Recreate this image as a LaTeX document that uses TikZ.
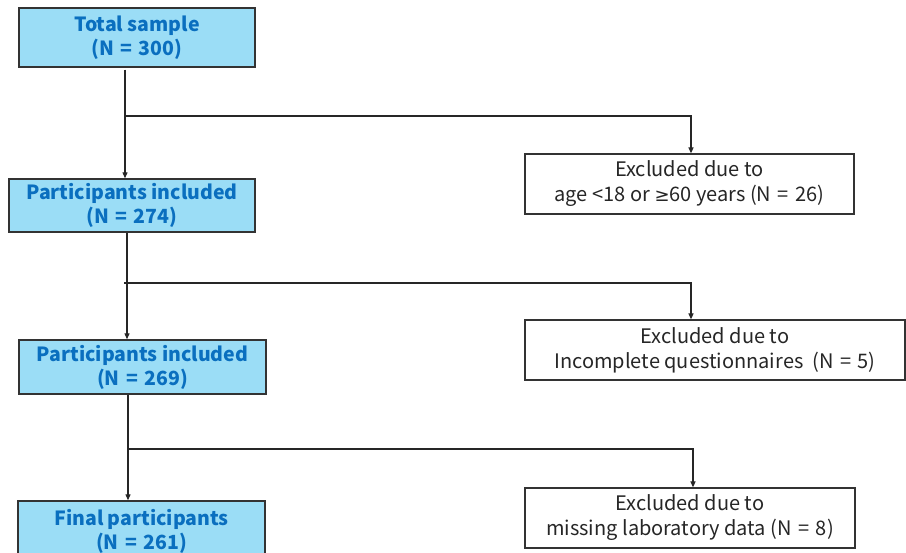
\documentclass[tikz,border=0pt]{standalone}
\usepackage{fontspec}
\setmainfont{Noto Sans CJK JP}
\newfontfamily\symfont{DejaVu Sans}
\usetikzlibrary{arrows.meta}
\definecolor{boxblue}{HTML}{9BDDF6}
\definecolor{txtblue}{HTML}{0A6FBF}
\definecolor{edge}{HTML}{333333}
\newcommand\myeq{\ \hspace{0.1em}=\hspace{0.1em}\ }
\begin{document}
\begin{tikzpicture}[x=1pt,y=-1pt,
  mainbox/.style={draw=edge,line width=1.4pt,fill=boxblue,font=\fontsize{19.5}{24}\selectfont\bfseries,text=txtblue,align=center,inner sep=0pt},
  exbox/.style={draw=edge,line width=1.2pt,fill=white,font=\fontsize{20}{25}\selectfont,text=black!85,align=center,inner sep=0pt},
  conn/.style={line width=1.2pt,draw=black!85},
  arr/.style={conn,-{Triangle[length=6pt,width=5pt]}}]
\useasboundingbox (0,0) rectangle (906,553);
\begin{scope}
\clip (0,0) rectangle (906,553);
\node[mainbox,minimum width=236pt,minimum height=59pt] (t) at (137,37.5) {Total sample\\(N\myeq300)};
\node[mainbox,minimum width=246pt,minimum height=53pt] (p1) at (132,205.5) {Participants included\\(N\myeq274)};
\node[mainbox,minimum width=247pt,minimum height=54pt] (p2) at (142.5,367) {Participants included\\(N\myeq269)};
\node[mainbox,minimum width=247pt,minimum height=60pt] (f) at (141.5,531) {Final participants\\(N\myeq261)};
\node[exbox,minimum width=329pt,minimum height=60pt] (e1) at (689.5,184) {\raisebox{-4pt}{\parbox{320pt}{\centering Excluded due to\\age <18 or {\symfont\fontsize{18}{25}\selectfont ≥}60 years (N\myeq26)}}};
\node[exbox,minimum width=380pt,minimum height=60pt] (e2) at (715,350) {\raisebox{-4pt}{\parbox{370pt}{\centering Excluded due to\\Incomplete questionnaires\ \ (N\myeq5)}}};
\node[exbox,minimum width=330pt,minimum height=60pt] (e3) at (690,518) {\raisebox{-4pt}{\parbox{320pt}{\centering Excluded due to\\missing laboratory data (N\myeq8)}}};
\end{scope}
\coordinate (b1) at (125,116);
\coordinate (b2) at (124,283);
\coordinate (b3) at (128,449);
\draw[arr] (t.south -| b1) ++(0,2) -- (b1 |- p1.north);
\draw[arr] (b1) -| (691,0 |- e1.north);
\draw[arr] (p1.south -| 127,0) -- (127,0 |- p2.north);
\draw[arr] (b2) -| (691,0 |- e2.north);
\draw[arr] (p2.south -| b3) -- (b3 |- f.north);
\draw[arr] (b3) -| (693,0 |- e3.north);
\end{tikzpicture}
\end{document}
